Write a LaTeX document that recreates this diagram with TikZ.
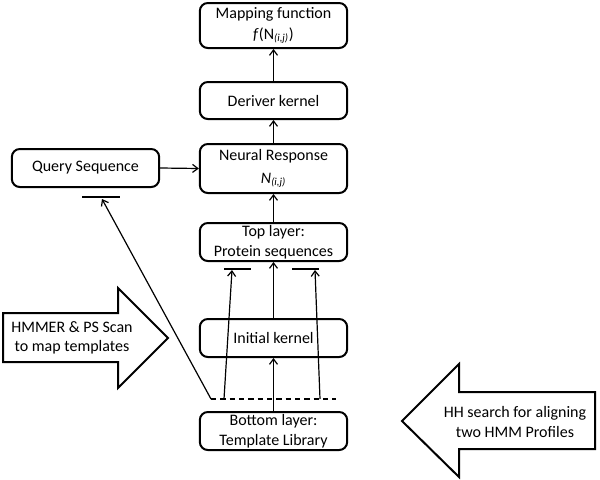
\documentclass[tikz,border=0pt]{standalone}
\usepackage{fontspec}
\setmainfont{Carlito}
\usetikzlibrary{arrows.meta}
\begin{document}
\begin{tikzpicture}[x=0.75pt,y=-0.75pt,
  box/.style={draw,line width=1.5pt,rounded corners=6pt,align=center,inner sep=0pt,
    minimum width=110.5pt,font=\fontsize{12}{15}\selectfont},
  conn/.style={line width=0.9pt,-{Straight Barb[length=4pt,width=6pt,line width=0.9pt]}},
  plain/.style={line width=0.9pt},
  bigarrow/.style={draw,line width=1.5pt,fill=white,line join=miter},
  lbl/.style={align=center,inner sep=0pt,font=\fontsize{12}{14.5}\selectfont}]
\useasboundingbox (0,0) rectangle (600,479);
% boxes
\node[box,minimum height=33.75pt] (map) at (273.5,25.5) {Mapping function\\[1pt]\textit{f}(N\textsubscript{\textit{(i,j)}})};
\node[box,minimum height=27.75pt] (deriv) at (273.5,100.5) {Deriver kernel};
\node[box,minimum height=36.75pt] (neural) at (273.5,168.5) {Neural Response\\[2pt]\textit{N}\textsubscript{\textit{(i,j)}}};
\node[box,minimum height=28.5pt] (query) at (85.5,168) {Query Sequence};
\node[box,minimum height=28.5pt] (top) at (273.5,242) {Top layer:\\Protein sequences};
\node[box,minimum height=28.5pt] (init) at (273.5,338) {Initial kernel};
\node[box,minimum height=28.5pt] (bottom) at (273.5,431) {Bottom layer:\\Template Library};
% vertical connectors
\draw[conn] (deriv.north) -- (map.south);
\draw[conn] (neural.north) -- (deriv.south);
\draw[conn] (top.north) -- (neural.south);
\draw[conn] (init.north) -- (top.south);
\draw[conn] (bottom.north) -- (init.south);
\draw[conn] (query.east) -- (neural.west);
% dashed line and slanted arrows
\coordinate (dl) at (211,399);
\coordinate (dr) at (336,399);
\coordinate (a1) at (224,399);
\coordinate (a2) at (320,399);
\coordinate (t1) at (232,270);
\coordinate (t2) at (315,270);
\coordinate (q) at (102,199);
\draw[plain,dashed,dash pattern=on 4pt off 3pt] (dl) -- (dr);
\draw[conn] (a1) -- (t1);
\draw[conn] (a2) -- (t2);
\draw[conn] (dl) -- (q);
% bars
\coordinate (b1l) at (224,269); \coordinate (b1r) at (251,269);
\coordinate (b2l) at (292,269); \coordinate (b2r) at (319,269);
\coordinate (b3l) at (82,197); \coordinate (b3r) at (120,197);
\draw[plain] (b1l) -- (b1r);
\draw[plain] (b2l) -- (b2r);
\draw[plain] (b3l) -- (b3r);
% big arrows
\draw[bigarrow] (3,313) -- (118,313) -- (118,288) -- (168,338) -- (118,388) -- (118,362) -- (3,362) -- cycle;
\node[lbl] (hmmer) at (72,338) {HMMER \& PS Scan\\to map templates};
\draw[bigarrow] (402,421) -- (459,364) -- (459,392) -- (595,392) -- (595,449) -- (459,449) -- (459,477) -- cycle;
\node[lbl] (hh) at (515,422) {HH search for aligning\\two HMM Profiles};
\end{tikzpicture}
\end{document}
